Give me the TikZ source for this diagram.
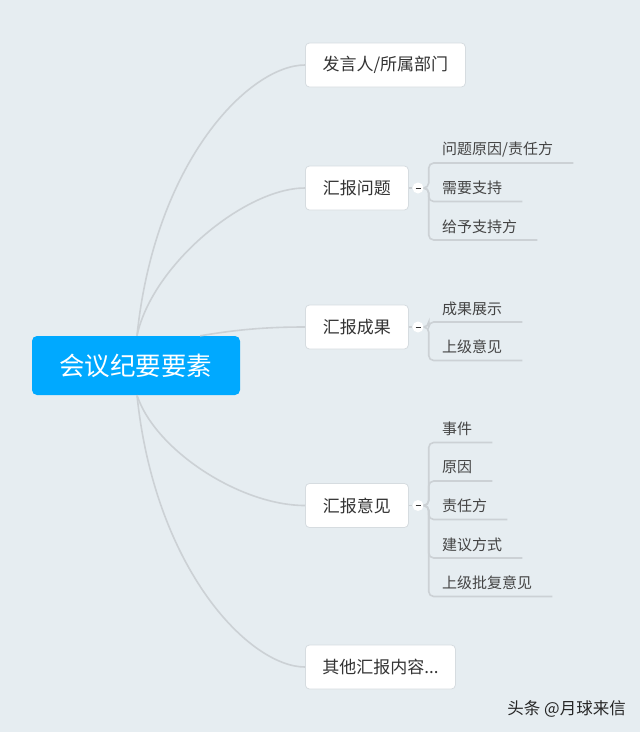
\documentclass[tikz,border=0pt]{standalone}
\usepackage{fontspec}
\setmainfont{Noto Sans CJK SC}
\usetikzlibrary{calc}
\definecolor{bg}{RGB}{230,237,241}
\definecolor{rootblue}{RGB}{0,169,255}
\definecolor{linegrey}{RGB}{204,209,213}
\definecolor{boxborder}{RGB}{214,220,224}
\definecolor{txt}{RGB}{51,51,51}
\definecolor{subtxt}{RGB}{68,68,68}
\begin{document}
\begin{tikzpicture}[x=1pt,y=-1pt,
  topic/.style={draw=boxborder, fill=white, rounded corners=4pt, minimum height=44pt,
    inner xsep=0pt, anchor=west, font=\fontsize{17}{20}\selectfont, text=txt, line width=0.8pt},
  rootbox/.style={fill=rootblue, rounded corners=5pt, minimum width=208pt, minimum height=59pt,
    text=white, font=\fontsize{25.5}{28}\selectfont, inner sep=0pt},
  branch/.style={draw=linegrey, line width=1.6pt},
  subline/.style={draw=linegrey, line width=1.6pt, rounded corners=5pt},
  child/.style={anchor=west, inner sep=0pt, font=\fontsize{15}{18}\selectfont, text=subtxt},
  fold/.style={circle, fill=white, minimum size=11pt, inner sep=0pt,
    path picture={\draw[txt, line width=1pt]
      ([xshift=-2.5pt]path picture bounding box.center) --
      ([xshift=2.5pt]path picture bounding box.center);}}
]
\useasboundingbox (0,0) rectangle (640,732);
\fill[bg] (0,0) rectangle (640,732);

% root
\node[rootbox] (root) at (136,365.5) {会议纪要要素};
\coordinate (rt) at ($(root.north)+(1,0)$);
\coordinate (rb) at ($(root.south)+(1,0)$);
\coordinate (rt3) at ($(root.north east)+(-40,0)$);

% main topics
\node[topic, minimum width=160pt] (t1) at (305,65) {发言人/所属部门};
\node[topic, minimum width=103pt] (t2) at (305,188) {汇报问题};
\node[topic, minimum width=103pt] (t3) at (305,327) {汇报成果};
\node[topic, minimum width=103pt] (t4) at (305,505.5) {汇报意见};
\node[topic, minimum width=150pt] (t5) at (305,667) {其他汇报内容...};

% main branches
\draw[branch] (rt) .. controls (155,160) and (250,65) .. (t1.west);
\draw[branch] (rt) .. controls (152,265) and (245,188) .. (t2.west);
\draw[branch] (rt3) .. controls (240,329) and (270,327) .. (t3.west);
\draw[branch] (rb) .. controls (155,450) and (240,505.5) .. (t4.west);
\draw[branch] (rb) .. controls (155,570) and (250,667) .. (t5.west);

% fold markers
\node[fold] (f2) at (418,188) {};
\node[fold] (f3) at (418,327) {};
\node[fold] (f4) at (418,505.5) {};
\draw[subline] (t2.east) -- (f2.west);
\draw[subline] (t3.east) -- (f3.west);
\draw[subline] (t4.east) -- (f4.west);

% children of t2
\node[child] (c21) at (442,149.5) {问题原因/责任方};
\node[child] (c22) at (442,188) {需要支持};
\node[child] (c23) at (442,226.5) {给予支持方};
% children of t3
\node[child] (c31) at (442,308.5) {成果展示};
\node[child] (c32) at (442,347) {上级意见};
% children of t4
\node[child] (c41) at (442,429) {事件};
\node[child] (c42) at (442,467.5) {原因};
\node[child] (c43) at (442,506) {责任方};
\node[child] (c44) at (442,544.5) {建议方式};
\node[child] (c45) at (442,583) {上级批复意见};

\foreach \c in {c21,c22,c23,c31,c32,c41,c42,c43,c44,c45}{
  \coordinate (e\c) at ($(\c.east)+(20,13.5)$);
}
\foreach \c in {c21,c22,c23}{ \draw[subline] (f2.east) -- ++(5,0) |- (e\c); }
\foreach \c in {c31,c32}{ \draw[subline] (f3.east) -- ++(5,0) |- (e\c); }
\foreach \c in {c41,c42,c43,c44,c45}{ \draw[subline] (f4.east) -- ++(5,0) |- (e\c); }

% watermark
\node[anchor=east, inner sep=0pt, font=\fontsize{16.5}{19}\selectfont, text=black!85] (wm) at (626,709) {头条 @月球来信};
\end{tikzpicture}
\end{document}
